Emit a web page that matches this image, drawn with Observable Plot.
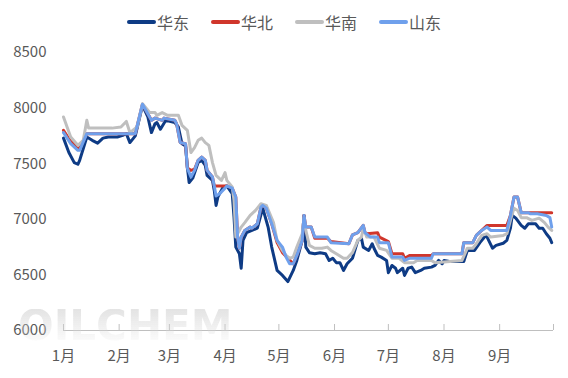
<!DOCTYPE html>
<html>
<head>
<meta charset="utf-8">
<script src="https://cdn.jsdelivr.net/npm/d3@7"></script>
<script src="https://cdn.jsdelivr.net/npm/@observablehq/plot@0.6"></script>
<style>
  html, body { margin: 0; padding: 0; background: #fff; }
  body { width: 568px; height: 378px; position: relative; overflow: hidden; font-family: "Noto Sans CJK SC", "Noto Sans", sans-serif; }
  #legend { height: 40px; display: flex; justify-content: center; align-items: center; padding-top: 4px; box-sizing: border-box; font-size: 16px; color: #595959; }
  .item { display: flex; align-items: center; margin: 0 11px; }
  .swatch { width: 29px; height: 4px; border-radius: 2px; margin-right: 1px; }
  #wm { position: absolute; left: 18px; top: 309px; line-height: 34px; height: 34px; font-family: "DejaVu Sans", sans-serif; font-weight: bold; font-size: 42px; background: linear-gradient(180deg, rgba(205,205,205,0.55), rgba(235,235,235,0.15)); -webkit-background-clip: text; background-clip: text; color: transparent; pointer-events: none; }
</style>
</head>
<body>
<div id="legend"></div>
<div id="chart"></div>
<div id="wm">OILCHEM</div>
<script>
const seriesNames = ["华东", "华北", "华南", "山东"];
const seriesColors = ["#0E3B85", "#D0362B", "#BFBFBF", "#6FA0EC"];
const monthTicks = ["01-01","02-01","03-01","04-01","05-01","06-01","07-01","08-01","09-01","10-01"];
const monthLabels = ["1月","2月","3月","4月","5月","6月","7月","8月","9月"];
const yTicks = [6000, 6500, 7000, 7500, 8000, 8500];

const hdDates = ["01-01","01-04","01-07","01-09","01-10","01-14","01-17","01-20","01-23","01-26","01-31","02-03","02-05","02-07","02-10","02-14","02-17","02-19","02-21","02-22","02-24","02-27","03-04","03-06","03-08","03-10","03-11","03-12","03-14","03-17","03-19","03-21","03-22","03-25","03-26","03-27","03-28","03-31","04-02","04-05","04-06","04-07","04-09","04-10","04-11","04-13","04-16","04-19","04-22","04-25","04-27","04-30","05-03","05-06","05-09","05-11","05-14","05-15","05-16","05-18","05-21","05-24","05-27","05-29","05-31","06-02","06-04","06-06","06-08","06-11","06-14","06-16","06-17","06-20","06-22","06-23","06-25","06-27","06-30","07-01","07-03","07-05","07-06","07-09","07-10","07-12","07-14","07-16","07-19","07-21","07-25","07-27","07-29","07-31","08-01","08-04","08-10","08-12","08-14","08-18","08-21","08-24","08-25","08-28","08-30","09-03","09-05","09-07","09-08","09-10","09-13","09-15","09-17","09-21","09-23","09-25","09-27","09-29","09-30"];
const hdValues = [7730,7600,7510,7495,7530,7740,7710,7685,7730,7740,7740,7755,7770,7690,7750,8025,7920,7780,7860,7870,7810,7890,7870,7830,7680,7660,7470,7330,7370,7510,7530,7485,7395,7350,7260,7125,7200,7290,7300,7230,7020,6750,6690,6560,6810,6880,6900,6920,7100,6930,6750,6540,6495,6440,6540,6630,6810,7035,6750,6700,6690,6700,6690,6630,6650,6610,6610,6540,6600,6650,6810,6830,6750,6720,6780,6740,6675,6660,6630,6520,6585,6560,6520,6560,6495,6560,6570,6520,6540,6560,6570,6585,6630,6600,6630,6620,6620,6620,6720,6720,6790,6850,6840,6740,6765,6785,6810,6920,7035,7010,6945,6920,6960,6960,6920,6920,6870,6830,6790];

const hbDates = ["01-01","01-05","01-09","01-10","01-14","02-07","02-10","02-14","02-19","02-21","02-25","02-26","03-04","03-05","03-07","03-10","03-11","03-13","03-15","03-17","03-19","03-21","03-22","03-25","03-26","03-31","04-02","04-05","04-07","04-08","04-09","04-10","04-12","04-15","04-16","04-19","04-21","04-22","04-24","04-27","04-30","05-03","05-06","05-09","05-11","05-14","05-15","05-16","05-19","05-21","05-28","05-30","06-09","06-11","06-14","06-17","06-18","06-19","06-25","06-26","07-01","07-03","07-09","07-10","07-13","07-25","07-26","08-11","08-12","08-17","08-19","08-22","08-25","09-05","09-07","09-09","09-11","09-13","09-30"];
const hbValues = [7800,7700,7640,7640,7770,7770,7770,8035,7890,7910,7890,7910,7890,7860,7690,7680,7460,7440,7450,7530,7560,7530,7440,7380,7300,7300,7300,7280,7200,6840,6740,6840,6900,6930,6920,6960,7110,7125,7100,6960,6790,6700,6650,6600,6675,6810,7035,6930,6930,6830,6830,6800,6780,6860,6880,6945,6880,6870,6880,6840,6800,6690,6690,6650,6675,6675,6690,6690,6790,6790,6855,6900,6945,6945,7035,7200,7200,7060,7060];

const hnDates = ["01-01","01-05","01-09","01-12","01-14","01-15","01-28","02-02","02-05","02-07","02-11","02-14","02-18","02-21","02-22","02-25","02-28","03-06","03-08","03-11","03-13","03-15","03-17","03-19","03-21","03-23","03-25","03-27","03-30","04-01","04-02","04-05","04-06","04-07","04-10","04-12","04-15","04-18","04-21","04-24","04-28","04-30","05-03","05-05","05-07","05-09","05-11","05-14","05-15","05-16","05-18","05-21","05-25","05-28","05-30","06-02","06-06","06-08","06-11","06-14","06-16","06-17","06-19","06-23","06-26","06-30","07-03","07-07","07-10","07-15","07-17","07-25","07-27","08-11","08-14","08-17","08-19","08-22","08-25","08-27","09-03","09-05","09-07","09-09","09-11","09-13","09-16","09-19","09-23","09-26","09-28","09-30"];
const hnValues = [7920,7740,7665,7710,7890,7820,7820,7830,7880,7780,7830,8040,7960,7960,7935,7960,7935,7935,7845,7800,7600,7645,7710,7730,7690,7665,7510,7395,7350,7420,7350,7290,7170,6840,6930,6970,7035,7080,7140,7125,6970,6810,6720,6675,6650,6660,6750,6870,7015,6900,6765,6740,6740,6750,6720,6690,6650,6650,6700,6810,6840,6920,6840,6840,6740,6720,6650,6650,6610,6610,6630,6630,6610,6630,6740,6740,6780,6855,6870,6840,6855,6870,6990,7100,7080,7015,7015,6990,7010,6970,6930,6900];

const sdDates = ["01-01","01-05","01-09","01-10","01-14","02-07","02-10","02-14","02-19","02-21","02-25","02-26","03-04","03-05","03-07","03-10","03-11","03-13","03-15","03-17","03-19","03-21","03-22","03-25","03-26","03-27","03-29","04-01","04-02","04-05","04-07","04-08","04-09","04-10","04-12","04-15","04-16","04-19","04-21","04-22","04-24","04-27","04-30","05-03","05-05","05-07","05-09","05-11","05-14","05-15","05-16","05-19","05-21","05-28","05-30","06-09","06-11","06-14","06-17","06-18","06-21","06-25","06-26","07-01","07-03","07-09","07-10","07-13","07-25","07-26","08-11","08-12","08-17","08-19","08-22","08-25","08-27","09-05","09-07","09-09","09-11","09-13","09-17","09-18","09-22","09-27","09-29","09-30"];
const sdValues = [7780,7680,7620,7620,7770,7770,7770,8035,7890,7910,7890,7910,7890,7860,7690,7680,7460,7380,7440,7530,7560,7530,7440,7380,7300,7210,7230,7280,7300,7280,7200,6840,6740,6840,6900,6930,6920,6960,7110,7125,7100,6960,6810,6750,6660,6600,6600,6675,6810,7035,6930,6930,6840,6840,6790,6780,6860,6880,6945,6880,6840,6840,6790,6790,6660,6660,6630,6650,6650,6690,6690,6790,6790,6855,6900,6930,6900,6900,7035,7200,7200,7060,7060,7050,7050,7035,7015,6930];

const allDates = [hdDates, hbDates, hnDates, sdDates];
const allValues = [hdValues, hbValues, hnValues, sdValues];

const parse = s => new Date("2023-" + s + "T00:00:00Z");
const data = [];
seriesNames.forEach((name, k) => {
  allDates[k].forEach((d, i) => data.push({series: name, date: parse(d), value: allValues[k][i]}));
});

// legend
const legend = document.getElementById("legend");
seriesNames.forEach((n, k) => {
  const it = document.createElement("div");
  it.className = "item";
  it.innerHTML = `<span class="swatch" style="background:${seriesColors[k]}"></span><span>${n}</span>`;
  legend.appendChild(it);
});

const tickDates = monthTicks.map(parse);
const labelDates = tickDates.slice(0, monthLabels.length);

const chart = Plot.plot({
  width: 568,
  height: 338,
  marginTop: 12,
  marginBottom: 48,
  marginLeft: 63,
  marginRight: 15,
  style: {fontFamily: "'Noto Sans CJK SC', 'Noto Sans', sans-serif", fontSize: "15px", color: "#595959", background: "transparent"},
  x: {type: "utc", domain: [tickDates[0], tickDates[tickDates.length - 1]], label: null},
  y: {domain: [yTicks[0], yTicks[yTicks.length - 1]], label: null},
  marks: [
    Plot.ruleY([yTicks[0]], {stroke: "#BFBFBF", strokeWidth: 1}),
    Plot.axisX({ticks: tickDates, tickSize: 6, dy: -6, stroke: "#BFBFBF", tickFormat: () => "", label: null}),
    Plot.axisX({ticks: labelDates, tickSize: 0, tickPadding: 20, tickFormat: d => monthLabels[d.getUTCMonth()], fill: "#595959", label: null}),
    Plot.axisY({ticks: yTicks, tickSize: 0, tickPadding: 17, tickFormat: d => String(d), fill: "#595959", label: null}),
    ...seriesNames.map((n, k) => Plot.line(data.filter(d => d.series === n), {x: "date", y: "value", stroke: seriesColors[k], strokeWidth: 3, strokeLinejoin: "round"}))
  ]
});
document.getElementById("chart").appendChild(chart);
</script>
</body>
</html>
